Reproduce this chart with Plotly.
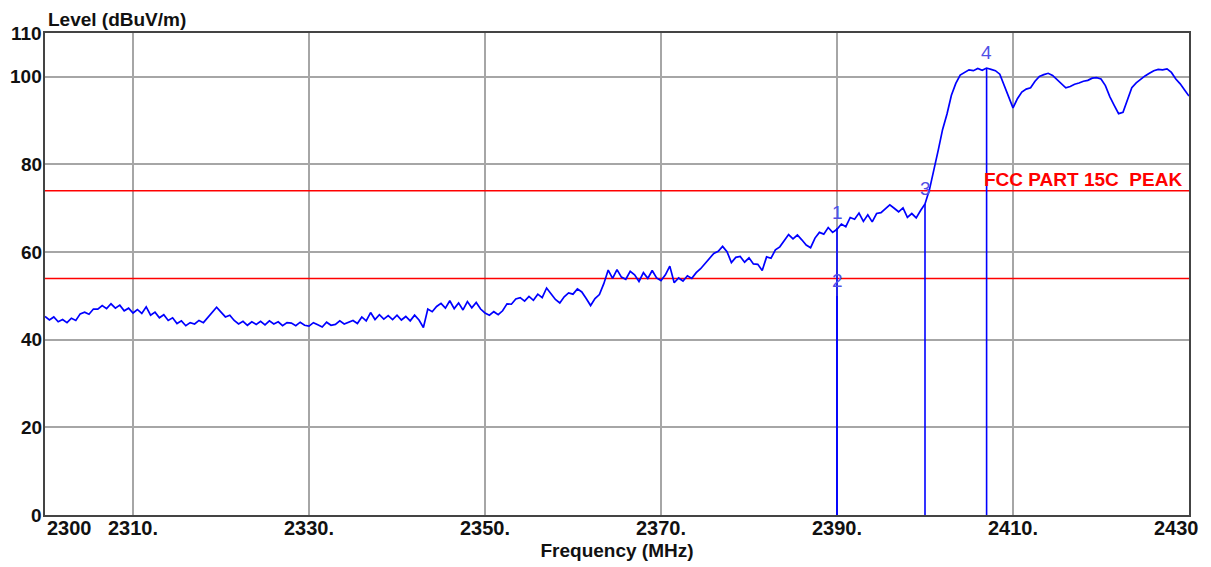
import plotly.graph_objects as go

# ---------------- data ----------------
freq_start = 2300.0
freq_step = 0.5
level = [
    45.3, 44.5, 45.2, 44.1, 44.6, 43.9, 44.9, 44.4, 45.9, 46.3,
    45.8, 47.0, 47.0, 47.8, 47.1, 48.2, 47.2, 47.9, 46.6, 47.2,
    46.1, 46.9, 46.0, 47.5, 45.6, 46.3, 45.0, 45.7, 44.4, 45.0,
    43.7, 44.3, 43.2, 43.9, 43.6, 44.4, 43.9, 45.0, 46.2, 47.4,
    46.3, 45.2, 45.6, 44.4, 43.6, 44.2, 43.3, 44.1, 43.5, 44.2,
    43.4, 44.3, 43.6, 44.1, 43.2, 43.9, 43.8, 43.2, 44.0, 43.3,
    43.1, 43.9, 43.4, 42.9, 44.0, 43.3, 43.5, 44.3, 43.6, 44.0,
    44.4, 43.7, 45.2, 44.3, 46.2, 44.6, 45.7, 44.7, 45.5, 44.6,
    45.6, 44.5, 45.3, 44.3, 45.6, 44.5, 42.8, 47.0, 46.4, 47.6,
    48.3, 47.2, 48.9, 47.1, 48.4, 46.8, 48.7, 47.3, 48.5, 47.0,
    46.1, 45.6, 46.4, 45.7, 46.6, 48.2, 48.1, 49.3, 49.6, 48.8,
    49.9, 49.0, 50.4, 49.6, 51.8, 50.5, 49.2, 48.4, 49.8, 50.7,
    50.4, 51.6, 50.9, 49.4, 47.8, 49.4, 50.3, 52.8, 55.9, 54.0,
    56.0, 54.3, 53.8, 55.6, 54.8, 53.3, 55.3, 54.0, 55.8, 54.1,
    53.5, 54.8, 56.8, 53.0, 54.1, 53.4, 54.6, 54.0, 55.3, 56.2,
    57.3, 58.6, 59.7, 60.2, 61.3, 60.1, 57.6, 58.8, 59.0, 57.7,
    58.7, 57.3, 57.2, 55.8, 58.9, 58.6, 60.5, 61.2, 62.6, 64.0,
    63.0, 63.9, 62.8, 61.6, 61.0, 63.2, 64.5, 64.1, 65.6, 64.5,
    65.2, 66.4, 65.8, 67.9, 67.5, 68.9, 67.0, 68.5, 66.9, 68.8,
    69.0, 70.0, 70.8, 70.0, 69.2, 70.1, 67.9, 68.8, 67.8, 69.5,
    71.0, 74.2, 78.5, 83.2, 88.0, 91.5, 95.8, 98.5, 100.4, 101.0,
    101.6, 101.4, 101.9, 101.5, 102.0, 101.7, 101.4, 100.6, 98.0, 95.2,
    92.9, 95.0, 96.5, 97.2, 97.5, 99.0, 100.1, 100.5, 100.8, 100.3,
    99.3, 98.3, 97.5, 97.8, 98.3, 98.6, 99.0, 99.2, 99.7, 99.8,
    99.5, 98.0, 95.5, 93.5, 91.6, 91.9, 94.5, 97.5, 98.6, 99.5,
    100.2, 100.8, 101.4, 101.7, 101.6, 101.8, 101.0, 99.5, 98.4, 97.0,
    95.6,
]
freq = [freq_start + i * freq_step for i in range(len(level))]

limit_levels = [74.0, 54.0]
limit_label = "FCC PART 15C  PEAK"

marker_names = ["1", "2", "3", "4"]
marker_freqs = [2390.0, 2390.0, 2400.0, 2407.0]
marker_levels = [65.5, 50.0, 71.0, 102.0]

x_tick_vals = [2300, 2310, 2330, 2350, 2370, 2390, 2410, 2430]
x_tick_text = ["2300", "2310.", "2330.", "2350.", "2370.", "2390.", "2410.", "2430"]
x_grid_vals = [2310, 2330, 2350, 2370, 2390, 2410]
y_tick_vals = [0, 20, 40, 60, 80, 100, 110]
y_tick_text = ["0", "20", "40", "60", "80", "100", "110"]

x_range = [2300, 2430]
y_range = [0, 110]

# ---------------- figure ----------------
FONT = "Liberation Sans, Arial, sans-serif"
TXT = "#111111"

fig = go.Figure()

# limit lines
for lv in limit_levels:
    fig.add_trace(go.Scatter(x=x_range, y=[lv, lv], mode="lines",
                             line=dict(color="#ff0000", width=1.5),
                             hoverinfo="skip", showlegend=False))

# marker vertical lines
for mf, ml in zip(marker_freqs, marker_levels):
    fig.add_trace(go.Scatter(x=[mf, mf], y=[0, ml], mode="lines",
                             line=dict(color="#0000ff", width=1.6),
                             hoverinfo="skip", showlegend=False))

# measured trace
fig.add_trace(go.Scatter(x=freq, y=level, mode="lines",
                         line=dict(color="#0000ff", width=1.7),
                         showlegend=False))

annotations = []
# marker labels
for name, mf, ml in zip(marker_names, marker_freqs, marker_levels):
    annotations.append(dict(x=mf, y=ml, xref="x", yref="y", text=name,
                            showarrow=False, xanchor="center", yanchor="bottom",
                            yshift=3, font=dict(family=FONT, size=19, color="#5050e6")))
# limit label
annotations.append(dict(x=x_range[1], y=limit_levels[0], xref="x", yref="y",
                        text=limit_label, showarrow=False, xanchor="right",
                        yanchor="bottom", xshift=-5, yshift=-1,
                        font=dict(family=FONT, size=19, color="#ff0000", weight="bold")))
# x tick labels
for i, (tv, tt) in enumerate(zip(x_tick_vals, x_tick_text)):
    xa, xs = "center", 0
    if i == 0:
        xa, xs = "left", 0
    elif i == len(x_tick_vals) - 1:
        xa, xs = "right", 12
    annotations.append(dict(x=tv, y=0, xref="x", yref="paper", text=tt,
                            showarrow=False, xanchor=xa, xshift=xs,
                            yanchor="top", yshift=0,
                            font=dict(family=FONT, size=20, color=TXT, weight="bold")))
# y tick labels
for tv, tt in zip(y_tick_vals, y_tick_text):
    annotations.append(dict(x=0, y=tv, xref="paper", yref="y", text=tt,
                            showarrow=False, xanchor="right", xshift=-1,
                            yanchor="middle", yshift=0,
                            font=dict(family=FONT, size=19, color=TXT, weight="bold")))
# y axis title
annotations.append(dict(x=0, y=1, xref="paper", yref="paper", text="Level (dBuV/m)",
                        showarrow=False, xanchor="left", yanchor="bottom",
                        xshift=1, yshift=1,
                        font=dict(family=FONT, size=19, color=TXT, weight="bold")))

fig.update_layout(
    width=1211, height=567,
    margin=dict(l=37, r=30, t=25, b=60, autoexpand=False),
    paper_bgcolor="white", plot_bgcolor="white",
    annotations=annotations,
    xaxis=dict(range=x_range, tickvals=x_grid_vals, showticklabels=False,
               showgrid=True, gridcolor="#a6a6a6", gridwidth=1.5,
               showline=True, linecolor="#444444", linewidth=2, mirror=True,
               ticks="", zeroline=False, automargin=False,
               title=dict(text="Frequency (MHz)", standoff=28,
                          font=dict(family=FONT, size=19, color=TXT, weight="bold"))),
    yaxis=dict(range=y_range, tickvals=y_tick_vals, showticklabels=False,
               showgrid=True, gridcolor="#a6a6a6", gridwidth=1.5,
               showline=True, linecolor="#444444", linewidth=2, mirror=True,
               ticks="", zeroline=False, automargin=False),
)

fig.write_html("out.html")
